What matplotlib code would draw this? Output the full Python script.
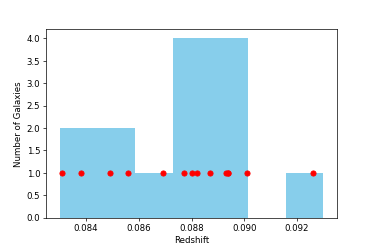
import matplotlib
matplotlib.use("Agg")
import matplotlib.pyplot as plt
import numpy as np

# redshift values (one pair overlaps)
redshifts = [0.08310, 0.08380, 0.08491, 0.08560, 0.08691,
             0.08770, 0.08800, 0.08820, 0.08870,
             0.08930, 0.08940, 0.08940, 0.09010, 0.09260]
n_bins = 7
hist_range = (0.0830, 0.0930)
point_level = [1] * len(redshifts)

fig = plt.figure(figsize=(6, 4), dpi=62.34)
plt.subplots_adjust(left=0.124, right=0.9, bottom=0.126, top=0.881)
plt.hist(redshifts, bins=n_bins, range=hist_range, color='skyblue')
plt.plot(redshifts, point_level, 'ro')
plt.xlabel('Redshift')
plt.ylabel('Number of Galaxies')
plt.savefig('out.png', dpi=62.34)
